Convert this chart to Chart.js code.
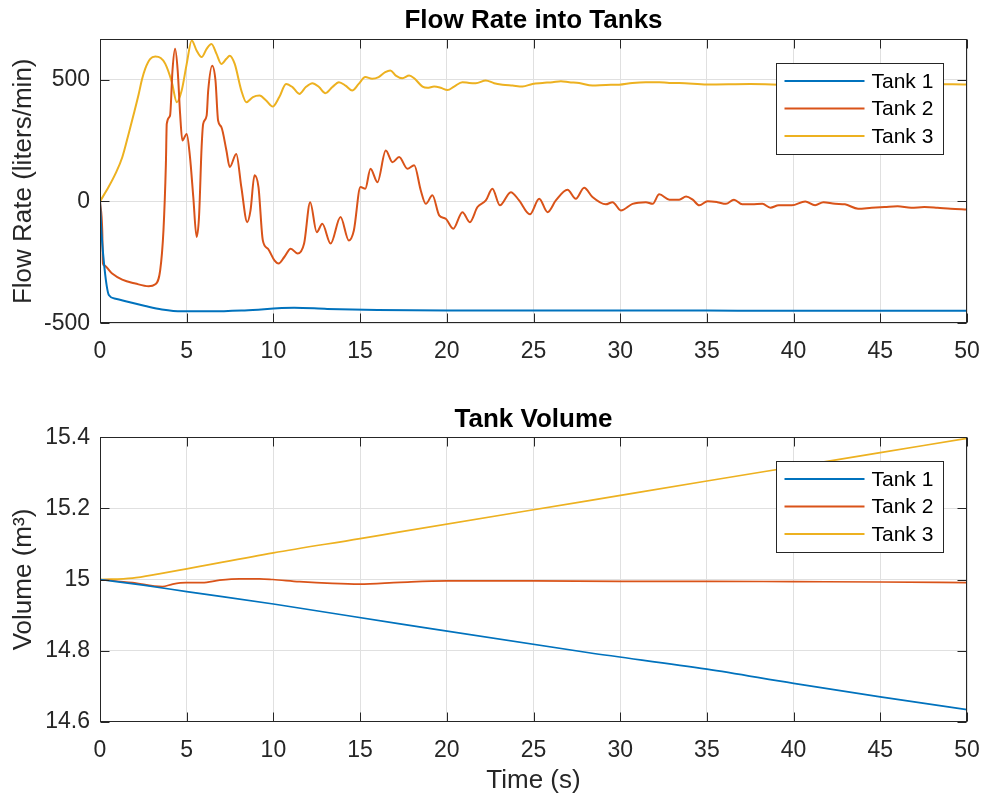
<!DOCTYPE html>
<html><head><meta charset="utf-8">
<script src="https://cdn.jsdelivr.net/npm/chart.js@4.4.1/dist/chart.umd.min.js"></script>
<style>
html,body{margin:0;padding:0;background:#fff;}
#wrap{position:relative;width:986px;height:804px;overflow:hidden;}
canvas{position:absolute;left:0;}
</style></head><body>
<div id="wrap">
<canvas id="c1" width="986" height="400" style="top:0px"></canvas>
<canvas id="c2" width="986" height="404" style="top:398px"></canvas>
</div>
<script>
// ---------- DATA ----------
const seriesNames = ['Tank 1', 'Tank 2', 'Tank 3'];
const xTicks = [0, 5, 10, 15, 20, 25, 30, 35, 40, 45, 50];
const xTickLabels = ['0','5','10','15','20','25','30','35','40','45','50'];
const flowYTicks = [-500, 0, 500];
const flowYTickLabels = ['-500', '0', '500'];
const volYTicks = [14.6, 14.8, 15, 15.2, 15.4];
const volYTickLabels = ['14.6', '14.8', '15', '15.2', '15.4'];

// Flow rate (liters/min)
const flowT1 = [0, 0.08, 0.3, 0.52, 0.9, 1.66, 2.61, 3.57, 4.71, 6.43, 8.34, 11.2, 13.1, 16, 20, 25, 30, 35, 40, 45, 50];
const flowV1 = [0, -120, -300, -385, -399, -413, -429, -443, -451, -451, -447, -436, -441, -445, -447, -447, -447, -448, -449, -449, -449];

const flowT2 = [0, 0.13, 0.17, 0.23, 0.7, 1.28, 2.04, 2.8, 3.19, 3.47, 3.66, 3.8, 3.85, 4.04, 4.18, 4.33, 4.48, 4.62, 4.75, 5.0,
  5.19, 5.38, 5.57, 5.71, 5.86, 5.95, 6.15, 6.24, 6.47, 6.66, 6.81, 7.0, 7.29, 7.48, 7.86, 8.15, 8.49, 8.68, 8.91, 9.14,
  9.39, 9.68, 10.06, 10.3, 10.63, 11.0, 11.4, 11.77, 12.12, 12.5, 12.82, 13.3, 13.87, 14.35, 14.64, 15.02, 15.3, 15.6, 16.0, 16.48,
  16.87, 17.25, 17.73, 18.12, 18.5, 18.79, 19.17, 19.56, 19.94, 20.37, 20.9, 21.33, 21.77, 22.25, 22.63, 23.06, 23.69, 24.17, 24.79, 25.33,
  25.81, 26.29, 26.96, 27.44, 27.92, 28.4, 29.17, 29.56, 30.04, 30.71, 31.48, 31.87, 32.25, 32.84, 33.4, 33.8, 34.18, 34.56, 35.04, 35.6,
  36.1, 36.56, 37.04, 37.6, 38.2, 38.66, 39.14, 39.9, 40.67, 41.24, 41.72, 42.39, 42.96, 43.72, 44.5, 45.25, 46.0, 46.78, 47.54, 48.3,
  49.06, 50];
const flowV2 = [0, -119, -255, -262, -296, -321, -337, -348, -340, -283, -119, 154, 318, 352, 537, 626, 537, 359, 250, 277,
  182, 18, -146, -64, 223, 318, 352, 455, 557, 496, 332, 305, 209, 141, 195, 59, -85, -37, 107, 59,
  -160, -194, -242, -255, -228, -194, -214, -173, -3, -126, -92, -173, -64, -160, -119, 59, 52, 134, 79, 209,
  161, 182, 134, 148, 45, -10, 25, -57, -71, -112, -44, -85, -23, 4, 52, -16, 38, 4, -53, 11,
  -44, 4, 48, 11, 56, 18, -12, -3, -37, -10, -3, -10, 29, 7, 7, 20, 7, -16, 1, -3,
  -10, 7, -12, -12, -10, -26, -16, -16, 0, -16, -3, -10, -12, -30, -26, -23, -20, -26, -23, -26,
  -30, -33];

const flowT3 = [0, 0.5, 0.9, 1.28, 1.66, 1.95, 2.23, 2.42, 2.61, 2.9, 3.19, 3.5, 3.76, 4.14, 4.43, 4.71, 5.0, 5.29, 5.57, 5.86,
  6.15, 6.43, 6.72, 7.0, 7.29, 7.48, 7.77, 8.15, 8.44, 8.82, 9.2, 9.58, 9.96, 10.34, 10.73, 11.1, 11.5, 11.87, 12.25, 12.63,
  13.0, 13.4, 13.78, 14.16, 14.54, 14.92, 15.3, 15.69, 16.07, 16.45, 16.74, 17.06, 17.44, 17.83, 18.12, 18.6, 18.88, 19.27, 19.65, 20.04,
  20.42, 20.9, 21.29, 21.67, 22.25, 22.73, 23.21, 23.79, 24.37, 24.94, 25.52, 26.1, 26.58, 27.06, 27.63, 28.4, 29.17, 29.94, 30.7, 31.48,
  32.25, 32.83, 33.4, 35, 37.5, 40, 42.5, 45, 47.5, 50];
const flowV3 = [0, 60, 115, 180, 280, 360, 440, 500, 545, 585, 594, 588, 565, 490, 407, 455, 564, 660, 619, 592,
  626, 646, 605, 564, 585, 598, 564, 455, 407, 428, 434, 414, 389, 428, 482, 469, 441, 469, 485, 469,
  444, 469, 489, 475, 455, 482, 510, 503, 510, 530, 537, 516, 505, 516, 505, 471, 466, 471, 466, 457,
  471, 489, 486, 485, 496, 485, 479, 475, 471, 482, 486, 489, 493, 489, 486, 475, 478, 479, 486, 489,
  489, 486, 486, 480, 482, 478, 481, 480, 482, 480];

// Tank volume (m^3)
const volT1 = [0, 2.5, 5, 10, 17.3, 28.2, 35, 40, 45, 50];
const volV1 = [15, 14.984, 14.966, 14.931, 14.875, 14.794, 14.748, 14.708, 14.67, 14.634];
const volT2 = [0, 1.87, 3.6, 4.2, 4.96, 5.9, 6.9, 8.05, 9.2, 9.96, 11.5, 13.4, 14.96, 17.3, 20, 25, 30, 35, 40, 45, 50];
const volV2 = [15, 14.991, 14.98, 14.987, 14.991, 14.991, 14.998, 15.002, 15.002, 15.0, 14.994, 14.989, 14.987, 14.992, 14.996, 14.996, 14.995, 14.995, 14.994, 14.993, 14.991];
const volT3 = [0, 1.87, 3.4, 5, 10, 15, 17.3, 28.2, 35, 40, 45, 50];
const volV3 = [15, 15.004, 15.016, 15.03, 15.075, 15.115, 15.134, 15.222, 15.277, 15.317, 15.357, 15.397];

// ---------- STYLE ----------
const COLORS = ['#0072BD', '#D95319', '#EDB120'];
const FONT = "'Liberation Sans', Arial, Helvetica, sans-serif";
const AXIS_COLOR = '#262626';
const GRID_COLOR = '#e0e0e0';

const pts = (t, v) => t.map((x, i) => ({x: x, y: v[i]}));

const matlabAxes = {
  id: 'matlabAxes',
  afterDatasetsDraw(chart, args, opts) {
    const {ctx, chartArea: a, scales: {x, y}} = chart;
    const L = 9;
    const l = Math.round(a.left) + 0.5, r = Math.round(a.right) - 0.5;
    const t = Math.round(a.top) + 0.5, b = Math.round(a.bottom) - 0.5;
    ctx.save();
    ctx.strokeStyle = AXIS_COLOR; ctx.lineWidth = 1;
    ctx.beginPath();
    x.ticks.forEach(tk => {
      const p = Math.round(x.getPixelForValue(tk.value)) + 0.5;
      ctx.moveTo(p, b); ctx.lineTo(p, b - L);
      ctx.moveTo(p, t); ctx.lineTo(p, t + L);
    });
    y.ticks.forEach(tk => {
      const p = Math.round(y.getPixelForValue(tk.value)) + 0.5;
      ctx.moveTo(l, p); ctx.lineTo(l + L, p);
      ctx.moveTo(r, p); ctx.lineTo(r - L, p);
    });
    ctx.stroke();
    ctx.strokeRect(l, t, r - l, b - t);
    // title
    ctx.fillStyle = '#000';
    ctx.font = 'bold 26px ' + FONT; ctx.textAlign = 'center'; ctx.textBaseline = 'alphabetic';
    ctx.fillText(opts.title, (a.left + a.right) / 2, opts.titleY);
    // legend box
    const w = 167, h = 91;
    const bx = Math.round(a.right - 24 - w) + 0.5, by = Math.round(a.top + 24) + 0.5;
    ctx.fillStyle = '#fff'; ctx.fillRect(bx, by, w, h);
    ctx.strokeStyle = AXIS_COLOR; ctx.lineWidth = 1; ctx.strokeRect(bx, by, w, h);
    ctx.font = '21px ' + FONT; ctx.textBaseline = 'middle'; ctx.textAlign = 'left';
    chart.data.datasets.forEach((ds, i) => {
      const yy = by + 17.5 + i * 27.5;
      ctx.strokeStyle = ds.borderColor; ctx.lineWidth = 2;
      ctx.beginPath(); ctx.moveTo(bx + 8, yy); ctx.lineTo(bx + 88, yy); ctx.stroke();
      ctx.fillStyle = '#000'; ctx.fillText(ds.label, bx + 95, yy + 1);
    });
    ctx.restore();
  }
};

function makeChart(id, data, cfg) {
  const datasets = data.map((d, i) => ({
    label: seriesNames[i], data: d, borderColor: COLORS[i], backgroundColor: COLORS[i],
    borderWidth: cfg.lw, pointRadius: 0, fill: false, cubicInterpolationMode: 'monotone'
  }));
  return new Chart(document.getElementById(id), {
    type: 'line',
    data: {datasets},
    options: {
      responsive: false, animation: false, devicePixelRatio: 1,
      layout: {padding: {left: 0, right: 19, top: 39.3, bottom: 0}},
      plugins: {
        legend: {display: false}, tooltip: {enabled: false}, title: {display: false},
        matlabAxes: {title: cfg.title, titleY: cfg.titleY}
      },
      scales: {
        x: {
          type: 'linear', min: 0, max: 50,
          afterBuildTicks: s => { s.ticks = xTicks.map(v => ({value: v})); },
          afterFit: s => { s.height = cfg.xHeight; s.paddingLeft = 0; s.paddingRight = 0; },
          grid: {color: GRID_COLOR, drawTicks: false, lineWidth: 1},
          border: {display: false},
          ticks: {color: AXIS_COLOR, font: {family: FONT, size: 23}, padding: 15, maxRotation: 0, autoSkip: false,
            callback: (v, i) => xTickLabels[i]},
          title: {display: !!cfg.xTitle, text: cfg.xTitle || '', color: AXIS_COLOR,
            font: {family: FONT, size: 26, lineHeight: 1.2}, padding: {top: 0, bottom: 6}}
        },
        y: {
          type: 'linear', min: cfg.ymin, max: cfg.ymax,
          afterBuildTicks: s => { s.ticks = cfg.yTicks.map(v => ({value: v})); },
          afterFit: s => { s.width = 100; s.paddingTop = 0; s.paddingBottom = 0; },
          grid: {color: GRID_COLOR, drawTicks: false, lineWidth: 1},
          border: {display: false},
          ticks: {color: AXIS_COLOR, font: {family: FONT, size: 23}, padding: 10, autoSkip: false,
            callback: (v, i) => cfg.yTickLabels[i]},
          title: {display: true, text: cfg.yTitle, color: AXIS_COLOR,
            font: {family: FONT, size: 26, lineHeight: 1.2}, padding: {top: 8.5, bottom: 0}}
        }
      }
    },
    plugins: [matlabAxes]
  });
}

makeChart('c1', [pts(flowT1, flowV1), pts(flowT2, flowV2), pts(flowT3, flowV3)], {
  title: 'Flow Rate into Tanks', titleY: 28, yTitle: 'Flow Rate (liters/min)', xTitle: '',
  ymin: -500, ymax: 665, yTicks: flowYTicks, yTickLabels: flowYTickLabels, xHeight: 400 - 323.3, lw: 2
});
makeChart('c2', [pts(volT1, volV1), pts(volT2, volV2), pts(volT3, volV3)], {
  title: 'Tank Volume', titleY: 29, yTitle: 'Volume (m³)', xTitle: 'Time (s)',
  ymin: 14.6, ymax: 15.4, yTicks: volYTicks, yTickLabels: volYTickLabels, xHeight: 404 - 323.7, lw: 1.7
});
</script>
</body></html>
